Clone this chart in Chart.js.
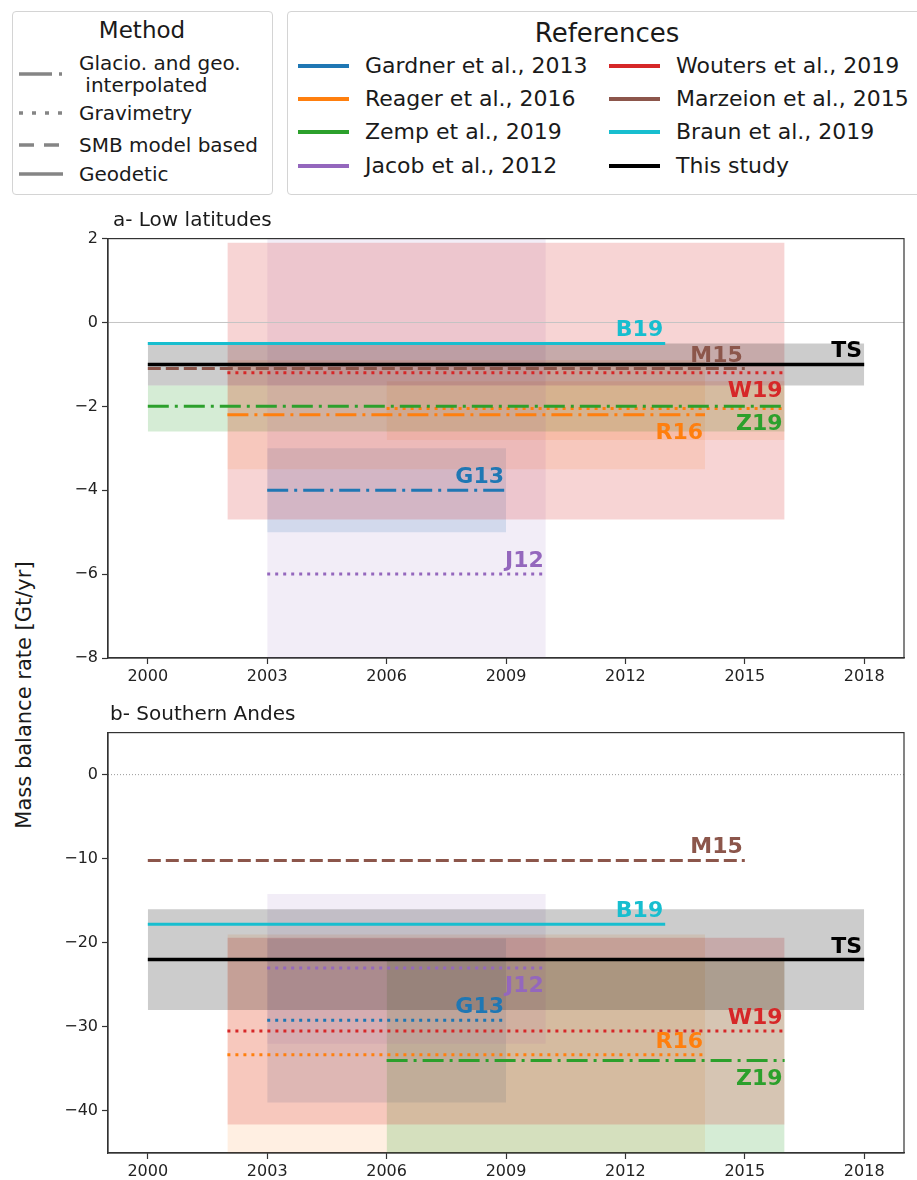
<!DOCTYPE html>
<html>
<head>
<meta charset="utf-8">
<title>Mass balance rate</title>
<script src="https://cdn.jsdelivr.net/npm/chart.js@4.4.1/dist/chart.umd.min.js"></script>
<style>
  body { margin: 0; background: #fff; }
  #page { position: relative; width: 917px; height: 1180px; overflow: hidden;
          font-family: "DejaVu Sans", sans-serif; color: #1a1a1a; }
  .box { position: absolute; border: 1.5px solid #d4d4d4; border-radius: 4px; }
  .txt { position: absolute; white-space: pre; line-height: 1; }
  svg.sample { position: absolute; overflow: visible; }
  canvas { position: absolute; left: 0; }
  #ytitle { left: 24px; top: 695px; font-size: 21px; transform: translate(-50%, -50%) rotate(-90deg); }
</style>
</head>
<body>
<div id="page">
  <div class="box" style="left:12px;top:11px;width:259px;height:182px"></div>
  <div class="box" style="left:287px;top:11px;width:660px;height:182px"></div>
  <div class="txt" id="ytitle">Mass balance rate [Gt/yr]</div>
  <canvas id="chartA" width="917" height="465" style="top:225px"></canvas>
  <canvas id="chartB" width="917" height="461" style="top:719px"></canvas>
</div>
<script>
// ---- data ----
const xTicks = [2000, 2003, 2006, 2009, 2012, 2015, 2018];
const refCodes = ['G13', 'R16', 'Z19', 'J12', 'W19', 'M15', 'B19', 'TS'];
const refNames = ['Gardner et al., 2013', 'Reager et al., 2016', 'Zemp et al., 2019', 'Jacob et al., 2012',
                  'Wouters et al., 2019', 'Marzeion et al., 2015', 'Braun et al., 2019', 'This study'];
const methodNames = ['Glacio. and geo.\n interpolated', 'Gravimetry', 'SMB model based', 'Geodetic'];
const methodKeys = ['glacio', 'grav', 'smb', 'geod'];

// a- Low latitudes
const aTicks  = [-8, -6, -4, -2, 0, 2];
const aRef    = ['G13', 'R16', 'R16', 'Z19', 'J12', 'W19', 'M15', 'B19', 'TS'];
const aStart  = [2003, 2002, 2006, 2000, 2003, 2002, 2000, 2000, 2000];
const aEnd    = [2009, 2014, 2016, 2016, 2010, 2016, 2015, 2013, 2018];
const aRate   = [-4.0, -2.2, -2.05, -2.0, -6.0, -1.2, -1.1, -0.5, -1.0];
const aLow    = [-5.0, -3.5, -2.8, -2.6, -14, -4.7, null, null, -1.5];
const aHigh   = [-3.0, -0.9, -1.4, -1.5, 2.5, 1.9, null, null, -0.5];
const aMethod = ['glacio', 'glacio', 'grav', 'glacio', 'grav', 'grav', 'smb', 'geod', 'geod'];

// b- Southern Andes
const bTicks  = [-40, -30, -20, -10, 0];
const bRef    = ['G13', 'R16', 'Z19', 'J12', 'W19', 'M15', 'B19', 'TS'];
const bStart  = [2003, 2002, 2006, 2003, 2002, 2000, 2000, 2000];
const bEnd    = [2009, 2014, 2016, 2010, 2016, 2015, 2013, 2018];
const bRate   = [-29.2, -33.3, -34.0, -23.0, -30.5, -10.2, -17.8, -22.0];
const bLow    = [-39, -47, -46, -32, -41.6, null, null, -28];
const bHigh   = [-19.5, -19, -22, -14.2, -19.4, null, null, -16];
const bMethod = ['grav', 'grav', 'glacio', 'grav', 'grav', 'smb', 'geod', 'geod'];

// ---- styles ----
const refColors = ['#1f77b4', '#ff7f0e', '#2ca02c', '#9467bd', '#d62728', '#8c564b', '#17becf', '#000000'];
const bandAlpha = { G13: 0.16, R16: 0.12, Z19: 0.2, J12: 0.12, W19: 0.2, M15: 0, B19: 0, TS: 0.2 };
const dashes = { glacio: [21, 6, 3, 6], grav: [3, 5], smb: [13, 5], geod: [] };
const legendDash = { glacio: '33 7 3 100', grav: '4 9', smb: '15 10', geod: '' };
const labelSideA = ['up', 'down', null, 'down', 'up', 'down', 'up', 'up', 'up'];
const labelSideB = ['up', 'up', 'down', 'down', 'up', 'up', 'up', 'up'];
const FONT = 'DejaVu Sans';

function rgba(hex, a) {
  const n = parseInt(hex.slice(1), 16);
  return `rgba(${n >> 16}, ${(n >> 8) & 255}, ${n & 255}, ${a})`;
}

const page = document.getElementById('page');

function addText(str, x, cy, size, extra) {
  const d = document.createElement('div');
  d.className = 'txt';
  d.textContent = str;
  d.style.left = x + 'px';
  d.style.top = (cy - 0.48 * size) + 'px';
  d.style.fontSize = size + 'px';
  if (extra) Object.assign(d.style, extra);
  page.appendChild(d);
  return d;
}

function addSample(x1, x2, cy, color, width, dash) {
  const ns = 'http://www.w3.org/2000/svg';
  const svg = document.createElementNS(ns, 'svg');
  svg.setAttribute('class', 'sample');
  svg.setAttribute('width', x2 - x1);
  svg.setAttribute('height', 10);
  svg.style.left = x1 + 'px';
  svg.style.top = (cy - 5) + 'px';
  const ln = document.createElementNS(ns, 'line');
  ln.setAttribute('x1', 0); ln.setAttribute('x2', x2 - x1);
  ln.setAttribute('y1', 5); ln.setAttribute('y2', 5);
  ln.setAttribute('stroke', color);
  ln.setAttribute('stroke-width', width);
  if (dash) ln.setAttribute('stroke-dasharray', dash);
  svg.appendChild(ln);
  page.appendChild(svg);
}

// Method legend
addText('Method', 142, 30, 23, { transform: 'translateX(-50%)' });
const methodRows = [63, 113, 145, 174];
methodNames.forEach((name, i) => {
  const lines = name.split('\n');
  lines.forEach((t, k) => addText(t, 79, methodRows[i] + k * 22, 20));
  const cy = lines.length > 1 ? methodRows[i] + 11 : methodRows[i];
  addSample(19, 63, cy, '#858585', 3.5, legendDash[methodKeys[i]]);
});

// References legend
addText('References', 607, 32, 26, { transform: 'translateX(-50%)' });
const refRows = [66, 99, 132, 166];
refNames.forEach((name, i) => {
  const col = Math.floor(i / 4), row = i % 4;
  const x0 = col === 0 ? 298 : 609;
  addSample(x0, x0 + 51, refRows[row], refColors[i], 4, '');
  addText(name, x0 + 67, refRows[row], 22);
});

addText('a- Low latitudes', 113, 219, 20);
addText('b- Southern Andes', 110, 713, 20);

// ---- charts ----
const framePlugin = {
  id: 'frame',
  afterDraw(chart) {
    const { ctx, chartArea: a } = chart;
    ctx.save();
    ctx.strokeStyle = '#333';
    ctx.lineWidth = 1.2;
    ctx.strokeRect(a.left, a.top, a.right - a.left, a.bottom - a.top);
    ctx.restore();
  }
};

const labelPlugin = {
  id: 'refLabels',
  afterDatasetsDraw(chart, args, opts) {
    const { ctx, scales } = chart;
    const p = opts.panel;
    ctx.save();
    ctx.font = `bold 22px "${FONT}"`;
    ctx.textAlign = 'right';
    ctx.textBaseline = 'alphabetic';
    p.ref.forEach((code, i) => {
      const side = p.side[i];
      if (!side) return;
      const x = scales.x.getPixelForValue(p.end[i]);
      const y = scales.y.getPixelForValue(p.rate[i]);
      ctx.fillStyle = refColors[refCodes.indexOf(code)];
      ctx.fillText(code, x - 2, side === 'up' ? y - 7 : y + 24);
    });
    ctx.restore();
  }
};

function buildPanel(canvasId, p) {
  const datasets = [{
    data: [{ x: 1999, y: 0 }, { x: 2019, y: 0 }],
    borderColor: p.zeroColor, borderWidth: 1, borderDash: p.zeroDash,
    pointRadius: 0, fill: false, order: 150
  }];
  p.ref.forEach((code, i) => {
    const col = refColors[refCodes.indexOf(code)];
    if (p.low[i] !== null && bandAlpha[code] > 0) {
      const c = rgba(col, bandAlpha[code]);
      datasets.push({
        data: [{ x: p.start[i], y: p.low[i] }, { x: p.end[i], y: p.low[i] }],
        borderWidth: 0, pointRadius: 0,
        fill: { target: { value: p.high[i] }, above: c, below: c },
        order: 300 - i
      });
    }
    datasets.push({
      data: [{ x: p.start[i], y: p.rate[i] }, { x: p.end[i], y: p.rate[i] }],
      borderColor: col, borderWidth: code === 'TS' ? 3.5 : 3,
      borderDash: dashes[p.method[i]], borderCapStyle: 'butt',
      pointRadius: 0, fill: false, order: 100 - i
    });
  });

  new Chart(document.getElementById(canvasId), {
    type: 'line',
    data: { datasets },
    options: {
      responsive: false,
      devicePixelRatio: 1,
      animation: false,
      events: [],
      layout: { padding: { top: 12, right: 13, left: 0, bottom: 0 } },
      plugins: { legend: { display: false }, tooltip: { enabled: false }, refLabels: { panel: p } },
      scales: {
        x: {
          type: 'linear', min: 1999, max: 2019,
          afterBuildTicks: s => { s.ticks = xTicks.map(v => ({ value: v })); },
          afterFit: s => { s.height = p.xAxisH; },
          grid: { drawOnChartArea: false, tickLength: 6, tickColor: '#333', tickWidth: 1.2 },
          border: { color: '#333', width: 1.2 },
          ticks: { font: { family: FONT, size: 16 }, color: '#222', padding: 3,
                   maxRotation: 0, autoSkip: false, callback: v => String(v) }
        },
        y: {
          type: 'linear', min: p.yMin, max: p.yMax,
          afterBuildTicks: s => { s.ticks = p.yTicks.map(v => ({ value: v })); },
          afterFit: s => { s.width = 108; },
          grid: { drawOnChartArea: false, tickLength: 6, tickColor: '#333', tickWidth: 1.2 },
          border: { color: '#333', width: 1.2 },
          ticks: { font: { family: FONT, size: 16 }, color: '#222', padding: 4,
                   callback: v => v < 0 ? '\u2212' + (-v) : String(v) }
        }
      }
    },
    plugins: [framePlugin, labelPlugin]
  });
}

buildPanel('chartA', {
  ref: aRef, start: aStart, end: aEnd, rate: aRate, low: aLow, high: aHigh, method: aMethod,
  side: labelSideA, yTicks: aTicks, yMin: -8, yMax: 2, xAxisH: 32,
  zeroColor: '#c4c4c4', zeroDash: []
});

buildPanel('chartB', {
  ref: bRef, start: bStart, end: bEnd, rate: bRate, low: bLow, high: bHigh, method: bMethod,
  side: labelSideB, yTicks: bTicks, yMin: -45, yMax: 5, xAxisH: 27,
  zeroColor: '#9a9a9a', zeroDash: [1, 2]
});
</script>
</body>
</html>
